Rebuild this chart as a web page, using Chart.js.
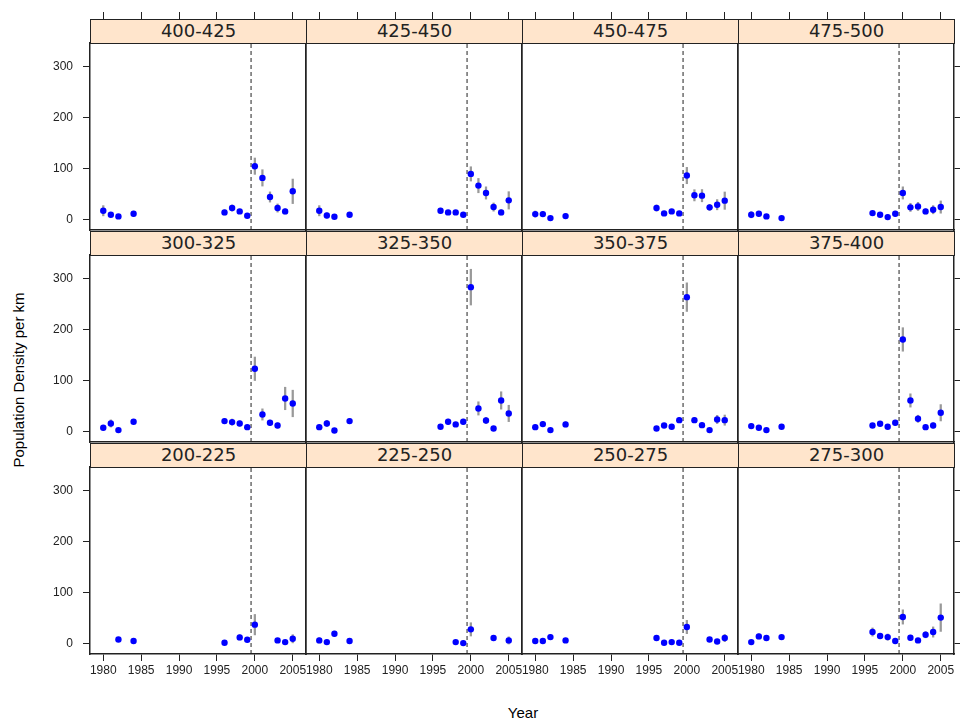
<!DOCTYPE html>
<html>
<head>
<meta charset="utf-8">
<script src="https://cdn.jsdelivr.net/npm/chart.js@4.4.1/dist/chart.umd.min.js"></script>
<style>
  body { margin: 0; background: #fff; width: 960px; height: 721px; position: relative; overflow: hidden; font-family: "Liberation Sans", sans-serif; }
  canvas { position: absolute; }
  .strip { position: absolute; background: #ffe5cc; border: 1px solid #222; box-sizing: border-box; text-align: center; font-family: "DejaVu Sans", sans-serif; font-size: 18px; line-height: 22px; color: #222; z-index: 5; }
  .ytitle { position: absolute; left: 18px; top: 380px; transform: translate(-50%, -50%) rotate(-90deg); font-size: 15px; white-space: nowrap; }
  .xtitle { position: absolute; left: 523px; top: 712px; transform: translate(-50%, -50%); font-size: 15px; }
</style>
</head>
<body>
<div class="ytitle">Population Density per km</div>
<div class="xtitle">Year</div>
<script>
// survey years (same in every panel)
const years = [1980, 1981, 1982, 1984, 1996, 1997, 1998, 1999, 2000, 2001, 2002, 2003, 2004, 2005];
const xTickValues = [1980, 1985, 1990, 1995, 2000, 2005];
const yTickValues = [0, 100, 200, 300];
const breakYear = 1999.5;

// density per panel, null = no survey that year
const density_200_225 = [null, null, 8.5, 5.3, 2, null, 12.5, 7.9, 37.4, null, null, 6.6, 3.3, 9.8];
const density_225_250 = [6.6, 3.3, 19.7, 5.3, null, null, 3.3, 1.3, 28.2, null, null, 11.2, null, 6.6];
const density_250_275 = [5.3, 5.3, 13.1, 6.6, 11.2, 2, 3.3, 2, 32.8, null, null, 8.5, 4.6, 11.2];
const density_275_300 = [3.3, 14.4, 11.2, 13.1, 23, 15.1, 13.1, 5.3, 52.5, 11.8, 6.6, 17.7, 23, 51.2];
const density_300_325 = [7.8, 16.3, 3.3, 19.6, 20.9, 18.9, 16.3, 9.1, 123.3, 33.9, 17.6, 12.4, 65.2, 55.4];
const density_325_350 = [9.1, 16.3, 2.6, 20.9, 9.8, 19.6, 14.4, 19.6, 283.1, 45.7, 22.2, 6.5, 61.3, 35.9];
const density_350_375 = [9.1, 15, 3.3, 14.4, 6.5, 12.4, 9.8, 22.8, 263.5, 22.8, 13, 3.3, 24.1, 22.8];
const density_375_400 = [11.1, 7.8, 3.3, 9.8, 12.4, 15.7, 9.8, 17.6, 180.7, 61.3, 25.4, 9.1, 12.4, 37.2];
const density_400_425 = [17.7, 9.8, 6.6, 11.8, 14.4, 23, 16.4, 7.9, 104.9, 82, 44.6, 23, 16.4, 55.7];
const density_425_450 = [17.7, 8.5, 5.9, 9.8, 17.7, 14.4, 14.4, 9.8, 89.8, 66.9, 52.5, 24.9, 14.4, 38];
const density_450_475 = [11.1, 11.1, 3.3, 7.2, 23, 12.5, 16.4, 12.5, 86.6, 47.9, 47.2, 24.3, 29.5, 37.4];
const density_475_500 = [9.8, 11.8, 6.6, 3.3, 13.1, 9.8, 5.2, 11.8, 52.5, 24.3, 26.2, 16.4, 19.7, 24.9];

// half length of the grey error bars
const spread_200_225 = [0, 0, 4, 3, 4, 0, 5, 4, 20, 0, 0, 4, 3, 8];
const spread_225_250 = [5, 4, 5, 4, 0, 0, 3, 4, 13, 0, 0, 4, 0, 7];
const spread_250_275 = [4, 3, 5, 3, 4, 3, 4, 3, 13, 0, 0, 4, 4, 7];
const spread_275_300 = [3, 5, 4, 3, 8, 5, 6, 4, 14, 5, 3, 6, 10, 27];
const spread_300_325 = [4, 7, 3, 4, 5, 6, 5, 3, 23, 11, 5, 5, 22, 26];
const spread_325_350 = [4, 6, 3, 5, 3, 5, 4, 5, 35, 13, 6, 3, 17, 16];
const spread_350_375 = [4, 5, 3, 5, 3, 4, 4, 5, 28, 5, 4, 3, 8, 10];
const spread_375_400 = [5, 4, 3, 3, 4, 4, 3, 5, 23, 13, 7, 4, 5, 16];
const spread_400_425 = [10, 4, 3, 5, 5, 6, 4, 4, 16, 16, 10, 8, 5, 24];
const spread_425_450 = [10, 5, 3, 4, 5, 4, 4, 3, 14, 14, 12, 8, 5, 17];
const spread_450_475 = [6, 5, 3, 5, 6, 4, 4, 3, 16, 11, 12, 6, 10, 17];
const spread_475_500 = [6, 5, 4, 3, 4, 3, 5, 5, 12, 8, 8, 5, 8, 12];

// lattice order: bottom-left to top-right
const panels = [
  { label: '200-225', values: density_200_225, spread: spread_200_225 },
  { label: '225-250', values: density_225_250, spread: spread_225_250 },
  { label: '250-275', values: density_250_275, spread: spread_250_275 },
  { label: '275-300', values: density_275_300, spread: spread_275_300 },
  { label: '300-325', values: density_300_325, spread: spread_300_325 },
  { label: '325-350', values: density_325_350, spread: spread_325_350 },
  { label: '350-375', values: density_350_375, spread: spread_350_375 },
  { label: '375-400', values: density_375_400, spread: spread_375_400 },
  { label: '400-425', values: density_400_425, spread: spread_400_425 },
  { label: '425-450', values: density_425_450, spread: spread_425_450 },
  { label: '450-475', values: density_450_475, spread: spread_450_475 },
  { label: '475-500', values: density_475_500, spread: spread_475_500 }
];

const X_MIN = 1978.25, X_MAX = 2006.75;
const Y_MIN = -20, Y_MAX = 346;

// panel geometry
const COL_X = [90, 306, 522, 738];
const PLOT_TOP = [43, 255, 467];
const PW = 216, PH = 187, STRIP_H = 24;
const ML = 45, MR = 10, MT = 34, MB = 30;
const TICK = 7;

const tickFont = { family: 'Liberation Sans', size: 12 };

function fixedTicks(list) {
  return scale => { scale.ticks = list.map(v => ({ value: v })); };
}

panels.forEach((p, i) => {
  const col = i % 4;
  const row = 2 - Math.floor(i / 4);
  const isLeft = col === 0, isRight = col === 3, isTop = row === 0, isBottom = row === 2;

  const cv = document.createElement('canvas');
  cv.width = PW + ML + MR;
  cv.height = PH + MT + MB;
  cv.style.left = (COL_X[col] - ML) + 'px';
  cv.style.top = (PLOT_TOP[row] - MT) + 'px';
  document.body.appendChild(cv);

  const strip = document.createElement('div');
  strip.className = 'strip';
  strip.textContent = p.label;
  strip.style.left = COL_X[col] + 'px';
  strip.style.top = (PLOT_TOP[row] - STRIP_H) + 'px';
  strip.style.width = (PW + 1) + 'px';
  strip.style.height = (STRIP_H + 1) + 'px';
  document.body.appendChild(strip);

  const pts = [], bars = [];
  years.forEach((yr, k) => {
    const v = p.values[k];
    if (v == null) return;
    pts.push({ x: yr, y: v });
    if (p.spread[k] > 0) bars.push({ x: yr, y: [v - p.spread[k], v + p.spread[k]] });
  });

  const border = { display: true, color: '#222', width: 1.5 };

  new Chart(cv, {
    type: 'scatter',
    data: {
      datasets: [
        { type: 'scatter', data: pts, pointRadius: 3.2, pointBackgroundColor: '#0000ff', pointBorderWidth: 0, order: 0 },
        { type: 'bar', data: bars, backgroundColor: '#999999', barThickness: 1.6, grouped: false, order: 1 },
        { type: 'line', data: [{ x: breakYear, y: Y_MIN }, { x: breakYear, y: Y_MAX }], borderColor: '#222',
          borderWidth: 1, borderDash: [4, 3], pointRadius: 0, showLine: true, order: 2 }
      ]
    },
    options: {
      responsive: false,
      animation: false,
      events: [],
      layout: { padding: 0 },
      plugins: { legend: { display: false }, tooltip: { enabled: false } },
      scales: {
        x: {
          type: 'linear', position: 'bottom', min: X_MIN, max: X_MAX, offset: false,
          afterBuildTicks: fixedTicks(xTickValues),
          afterFit: s => { s.height = MB; },
          border: border,
          grid: { offset: false, drawOnChartArea: false, drawTicks: isBottom, tickLength: TICK, tickColor: '#222' },
          ticks: { display: isBottom, color: '#222', font: tickFont, padding: 2, maxRotation: 0, autoSkip: false,
                   callback: v => String(v) }
        },
        xTop: {
          type: 'linear', position: 'top', min: X_MIN, max: X_MAX, offset: false,
          afterBuildTicks: fixedTicks(xTickValues),
          afterFit: s => { s.height = MT; },
          border: border,
          grid: { offset: false, drawOnChartArea: false, drawTicks: isTop, tickLength: STRIP_H + TICK, tickColor: '#222' },
          ticks: { display: false }
        },
        y: {
          type: 'linear', position: 'left', min: Y_MIN, max: Y_MAX,
          afterBuildTicks: fixedTicks(yTickValues),
          afterFit: s => { s.width = ML; },
          border: border,
          grid: { drawOnChartArea: false, drawTicks: isLeft, tickLength: TICK, tickColor: '#222' },
          ticks: { display: isLeft, color: '#222', font: tickFont, padding: 10 }
        },
        yRight: {
          type: 'linear', position: 'right', min: Y_MIN, max: Y_MAX,
          afterBuildTicks: fixedTicks(yTickValues),
          afterFit: s => { s.width = MR; },
          border: border,
          grid: { drawOnChartArea: false, drawTicks: isRight, tickLength: TICK, tickColor: '#222' },
          ticks: { display: false }
        }
      }
    }
  });
});
</script>
</body>
</html>
